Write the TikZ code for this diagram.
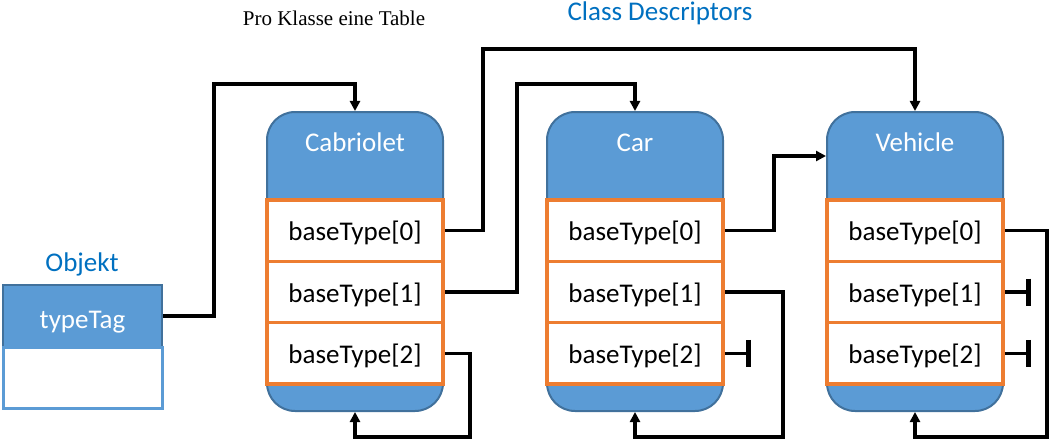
\documentclass[tikz,border=0pt]{standalone}
\usepackage{fontspec}
\setmainfont{Carlito}
\newfontfamily\timesfont{Liberation Serif}
\usetikzlibrary{arrows.meta}
\definecolor{boxblue}{HTML}{5B9BD5}
\definecolor{darkblue}{HTML}{41719C}
\definecolor{rowor}{HTML}{ED7D31}
\definecolor{titleblue}{HTML}{0070C0}
\tikzset{
  body/.style={draw=darkblue, line width=2pt, fill=boxblue, rounded corners=28pt,
    minimum width=176pt, minimum height=299pt, inner sep=0pt},
  rowbox/.style={draw=rowor, line width=3.5pt, fill=white,
    minimum width=176pt, minimum height=61.33pt, inner sep=0pt,
    font=\fontsize{27}{32}\selectfont, text=black, text height=22pt, text depth=1.6pt},
  cname/.style={font=\fontsize{27}{32}\selectfont, text=white, inner sep=0pt,
    text height=19pt, text depth=1.6pt},
  conn/.style={line width=3.2pt, draw=black},
  arr/.style={conn, -{Triangle[length=10pt,width=10pt]}},
  teeend/.style={conn, -{Bar[width=27pt,line width=4.5pt]}},
  label/.style={font=\fontsize{27}{32}\selectfont, text=titleblue, inner sep=0pt,
    text height=19pt, text depth=1.6pt},
}
\begin{document}
\begin{tikzpicture}[x=1pt,y=-1pt]
\useasboundingbox (0,0) rectangle (1053,444);
% titles
\node[inner sep=0pt, font=\timesfont\fontsize{21}{24}\selectfont] (protitle) at (334,18) {Pro Klasse eine Table};
\node[label] (cdtitle) at (660,12) {Class Descriptors};
\node[label] (objlabel) at (82,262.5) {Objekt};
% Objekt box
\node[draw=darkblue, line width=2pt, fill=boxblue, minimum width=159pt, minimum height=62pt, inner sep=0pt,
  font=\fontsize{27}{32}\selectfont, text=white, text height=27pt, text depth=1.6pt] (tag) at (82.5,316) {typeTag};
\node[draw=boxblue, line width=3pt, fill=white, minimum width=159pt, minimum height=61pt, inner sep=0pt] (objrest) at (82.5,378) {};
% class descriptors
\foreach \n/\t/\x in {cab/Cabriolet/355, car/Car/635, veh/Vehicle/915}{
  \node[body] (\n) at (\x,261.5) {};
  \node[cname] (\n t) at (\x,142.5) {\t};
  \node[rowbox] (\n0) at (\x,230.67) {baseType[0]};
  \node[rowbox] (\n1) at (\x,292) {baseType[1]};
  \node[rowbox] (\n2) at (\x,353.33) {baseType[2]};
}
% connectors
\coordinate (k1) at (214,84);
\coordinate (k2) at (483,49);
\coordinate (k3) at (517,84);
\coordinate (k4) at (470,437);
\coordinate (k5) at (774,156);
\coordinate (k6) at (783,437);
\coordinate (k7) at (1047,437);
\draw[arr] (tag.east) -| (k1) -| (cab.north);
\draw[arr] (cab0.east) -| (k2) -| (veh.north);
\draw[arr] (cab1.east) -| (k3) -| (car.north);
\draw[arr] (cab2.east) -| (k4) -| (cab.south);
\draw[arr] (car0.east) -| (k5) -- (veh.west |- k5);
\draw[arr] (car1.east) -| (k6) -| (car.south);
\draw[teeend] (car2.east) -- ++(26,0);
\draw[arr] (veh0.east) -| (k7) -| (veh.south);
\draw[teeend] (veh1.east) -- ++(26,0);
\draw[teeend] (veh2.east) -- ++(26,0);
\end{tikzpicture}
\end{document}
